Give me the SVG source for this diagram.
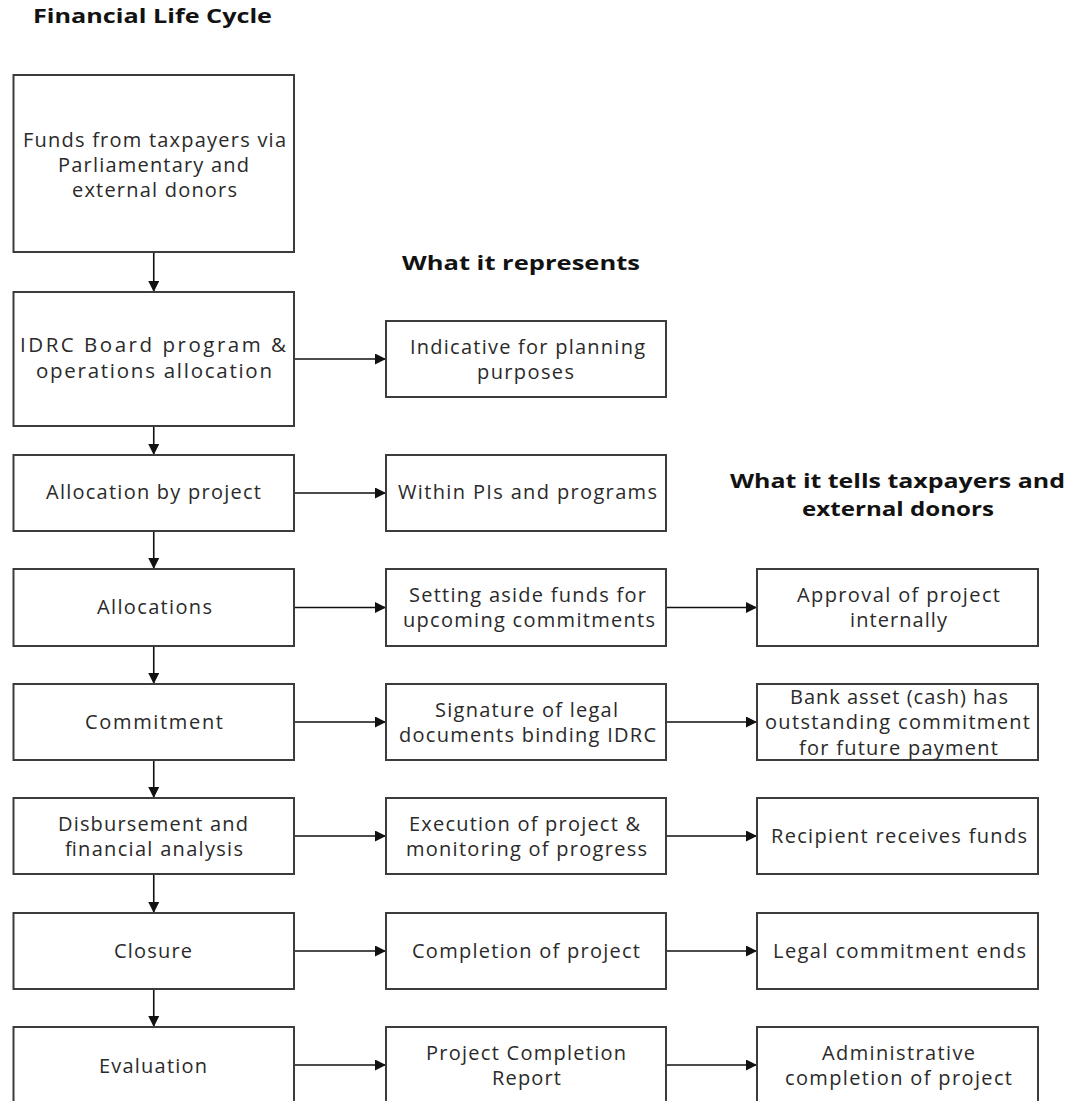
<svg xmlns="http://www.w3.org/2000/svg" width="1076" height="1101" viewBox="0 0 1076 1101">
  <style>
    .box { fill: #ffffff; stroke: #3c3c3c; stroke-width: 2; }
    .t { font-family: "Open Sans", "Liberation Sans", sans-serif; font-size: 20px; fill: #2a2a2a; text-anchor: middle; }
    .big { font-size: 20.5px; }
    .h { font-family: "Open Sans", "Noto Sans", sans-serif; font-weight: bold; font-size: 20px; fill: #121212; text-anchor: middle; }
    .link { fill: none; stroke: #111111; stroke-width: 1.6; marker-end: url(#arrow); }
  </style>
  <defs>
    <marker id="arrow" viewBox="0 0 10 10" refX="10" refY="5" markerWidth="11" markerHeight="11" markerUnits="userSpaceOnUse" orient="auto">
      <path d="M0,0 L10,5 L0,10 z" fill="#111111"/>
    </marker>
  </defs>
  <rect width="1076" height="1101" fill="#ffffff"/>

  <!-- headings -->
  <g id="headings">
    <text class="h" x="152.5" y="23" textLength="239" lengthAdjust="spacingAndGlyphs">Financial Life Cycle</text>
    <text class="h" x="521" y="270" textLength="238" lengthAdjust="spacingAndGlyphs">What it represents</text>
    <text class="h" x="897.5" y="488" textLength="335" lengthAdjust="spacingAndGlyphs">What it tells taxpayers and</text>
    <text class="h" x="898" y="516" textLength="192" lengthAdjust="spacingAndGlyphs">external donors</text>
  </g>

  <!-- connectors -->
  <g id="connectors">
    <line class="link" x1="153.75" y1="252" x2="153.75" y2="292"/>
    <line class="link" x1="153.75" y1="426" x2="153.75" y2="455"/>
    <line class="link" x1="153.75" y1="531" x2="153.75" y2="569"/>
    <line class="link" x1="153.75" y1="646" x2="153.75" y2="684"/>
    <line class="link" x1="153.75" y1="760" x2="153.75" y2="798"/>
    <line class="link" x1="153.75" y1="874" x2="153.75" y2="913"/>
    <line class="link" x1="153.75" y1="989" x2="153.75" y2="1027"/>

    <line class="link" x1="294" y1="359" x2="386" y2="359"/>
    <line class="link" x1="294" y1="493" x2="386" y2="493"/>
    <line class="link" x1="294" y1="607.5" x2="386" y2="607.5"/>
    <line class="link" x1="294" y1="722" x2="386" y2="722"/>
    <line class="link" x1="294" y1="836" x2="386" y2="836"/>
    <line class="link" x1="294" y1="951" x2="386" y2="951"/>
    <line class="link" x1="294" y1="1065" x2="386" y2="1065"/>

    <line class="link" x1="666" y1="607.5" x2="757" y2="607.5"/>
    <line class="link" x1="666" y1="722" x2="757" y2="722"/>
    <line class="link" x1="666" y1="836" x2="757" y2="836"/>
    <line class="link" x1="666" y1="951" x2="757" y2="951"/>
    <line class="link" x1="666" y1="1065" x2="757" y2="1065"/>
  </g>

  <!-- left column: life cycle stages -->
  <g id="funds">
    <rect class="box" x="13.5" y="75" width="280.5" height="177"/>
    <text class="t" x="154.5" y="147" textLength="263" lengthAdjust="spacing">Funds from taxpayers via</text>
    <text class="t" x="153.5" y="172" textLength="191" lengthAdjust="spacing">Parliamentary and</text>
    <text class="t" x="154.5" y="197" textLength="165" lengthAdjust="spacing">external donors</text>
  </g>
  <g id="board-allocation">
    <rect class="box" x="13.5" y="292" width="280.5" height="134"/>
    <text class="t big" x="153" y="352" textLength="266" lengthAdjust="spacing">IDRC Board program &amp;</text>
    <text class="t big" x="154" y="378" textLength="236" lengthAdjust="spacing">operations allocation</text>
  </g>
  <g id="allocation-by-project">
    <rect class="box" x="13.5" y="455" width="280.5" height="76"/>
    <text class="t" x="153.5" y="499" textLength="215" lengthAdjust="spacing">Allocation by project</text>
  </g>
  <g id="allocations">
    <rect class="box" x="13.5" y="569" width="280.5" height="77"/>
    <text class="t" x="154.5" y="614" textLength="115" lengthAdjust="spacing">Allocations</text>
  </g>
  <g id="commitment">
    <rect class="box" x="13.5" y="684" width="280.5" height="76"/>
    <text class="t" x="154" y="729" textLength="138" lengthAdjust="spacing">Commitment</text>
  </g>
  <g id="disbursement">
    <rect class="box" x="13.5" y="798" width="280.5" height="76"/>
    <text class="t" x="153" y="831" textLength="190" lengthAdjust="spacing">Disbursement and</text>
    <text class="t" x="154" y="856" textLength="178" lengthAdjust="spacing">financial analysis</text>
  </g>
  <g id="closure">
    <rect class="box" x="13.5" y="913" width="280.5" height="76"/>
    <text class="t" x="153" y="958" textLength="78" lengthAdjust="spacing">Closure</text>
  </g>
  <g id="evaluation">
    <rect class="box" x="13.5" y="1027" width="280.5" height="90"/>
    <text class="t" x="153" y="1073" textLength="108" lengthAdjust="spacing">Evaluation</text>
  </g>

  <!-- middle column: what it represents -->
  <g id="indicative">
    <rect class="box" x="386" y="321" width="280" height="76"/>
    <text class="t" x="527.5" y="354" textLength="235" lengthAdjust="spacing">Indicative for planning</text>
    <text class="t" x="525.5" y="379" textLength="97" lengthAdjust="spacing">purposes</text>
  </g>
  <g id="within-pis">
    <rect class="box" x="386" y="455" width="280" height="76"/>
    <text class="t" x="527.5" y="499" textLength="259" lengthAdjust="spacing">Within PIs and programs</text>
  </g>
  <g id="setting-aside">
    <rect class="box" x="386" y="569" width="280" height="77"/>
    <text class="t" x="527.5" y="602" textLength="237" lengthAdjust="spacing">Setting aside funds for</text>
    <text class="t" x="529" y="627" textLength="252" lengthAdjust="spacing">upcoming commitments</text>
  </g>
  <g id="signature">
    <rect class="box" x="386" y="684" width="280" height="76"/>
    <text class="t" x="526.5" y="717" textLength="183" lengthAdjust="spacing">Signature of legal</text>
    <text class="t" x="527.5" y="742" textLength="257" lengthAdjust="spacing">documents binding IDRC</text>
  </g>
  <g id="execution">
    <rect class="box" x="386" y="798" width="280" height="76"/>
    <text class="t" x="524.5" y="831" textLength="231" lengthAdjust="spacing">Execution of project &amp;</text>
    <text class="t" x="526.5" y="856" textLength="241" lengthAdjust="spacing">monitoring of progress</text>
  </g>
  <g id="completion">
    <rect class="box" x="386" y="913" width="280" height="76"/>
    <text class="t" x="526" y="958" textLength="228" lengthAdjust="spacing">Completion of project</text>
  </g>
  <g id="completion-report">
    <rect class="box" x="386" y="1027" width="280" height="90"/>
    <text class="t" x="526" y="1060" textLength="200" lengthAdjust="spacing">Project Completion</text>
    <text class="t" x="526.5" y="1085" textLength="69" lengthAdjust="spacing">Report</text>
  </g>

  <!-- right column: what it tells taxpayers and external donors -->
  <g id="approval">
    <rect class="box" x="757" y="569" width="281" height="77"/>
    <text class="t" x="898.5" y="602" textLength="203" lengthAdjust="spacing">Approval of project</text>
    <text class="t" x="898.5" y="627" textLength="97" lengthAdjust="spacing">internally</text>
  </g>
  <g id="bank-asset">
    <rect class="box" x="757" y="684" width="281" height="76"/>
    <text class="t" x="899" y="704" textLength="218" lengthAdjust="spacing">Bank asset (cash) has</text>
    <text class="t" x="897.5" y="729" textLength="265" lengthAdjust="spacing">outstanding commitment</text>
    <text class="t" x="898.5" y="755" textLength="199" lengthAdjust="spacing">for future payment</text>
  </g>
  <g id="recipient">
    <rect class="box" x="757" y="798" width="281" height="76"/>
    <text class="t" x="899" y="843" textLength="256" lengthAdjust="spacing">Recipient receives funds</text>
  </g>
  <g id="legal-ends">
    <rect class="box" x="757" y="913" width="281" height="76"/>
    <text class="t" x="899.5" y="958" textLength="253" lengthAdjust="spacing">Legal commitment ends</text>
  </g>
  <g id="administrative">
    <rect class="box" x="757" y="1027" width="281" height="90"/>
    <text class="t" x="898.5" y="1060" textLength="153" lengthAdjust="spacing">Administrative</text>
    <text class="t" x="898.5" y="1085" textLength="227" lengthAdjust="spacing">completion of project</text>
  </g>
</svg>
